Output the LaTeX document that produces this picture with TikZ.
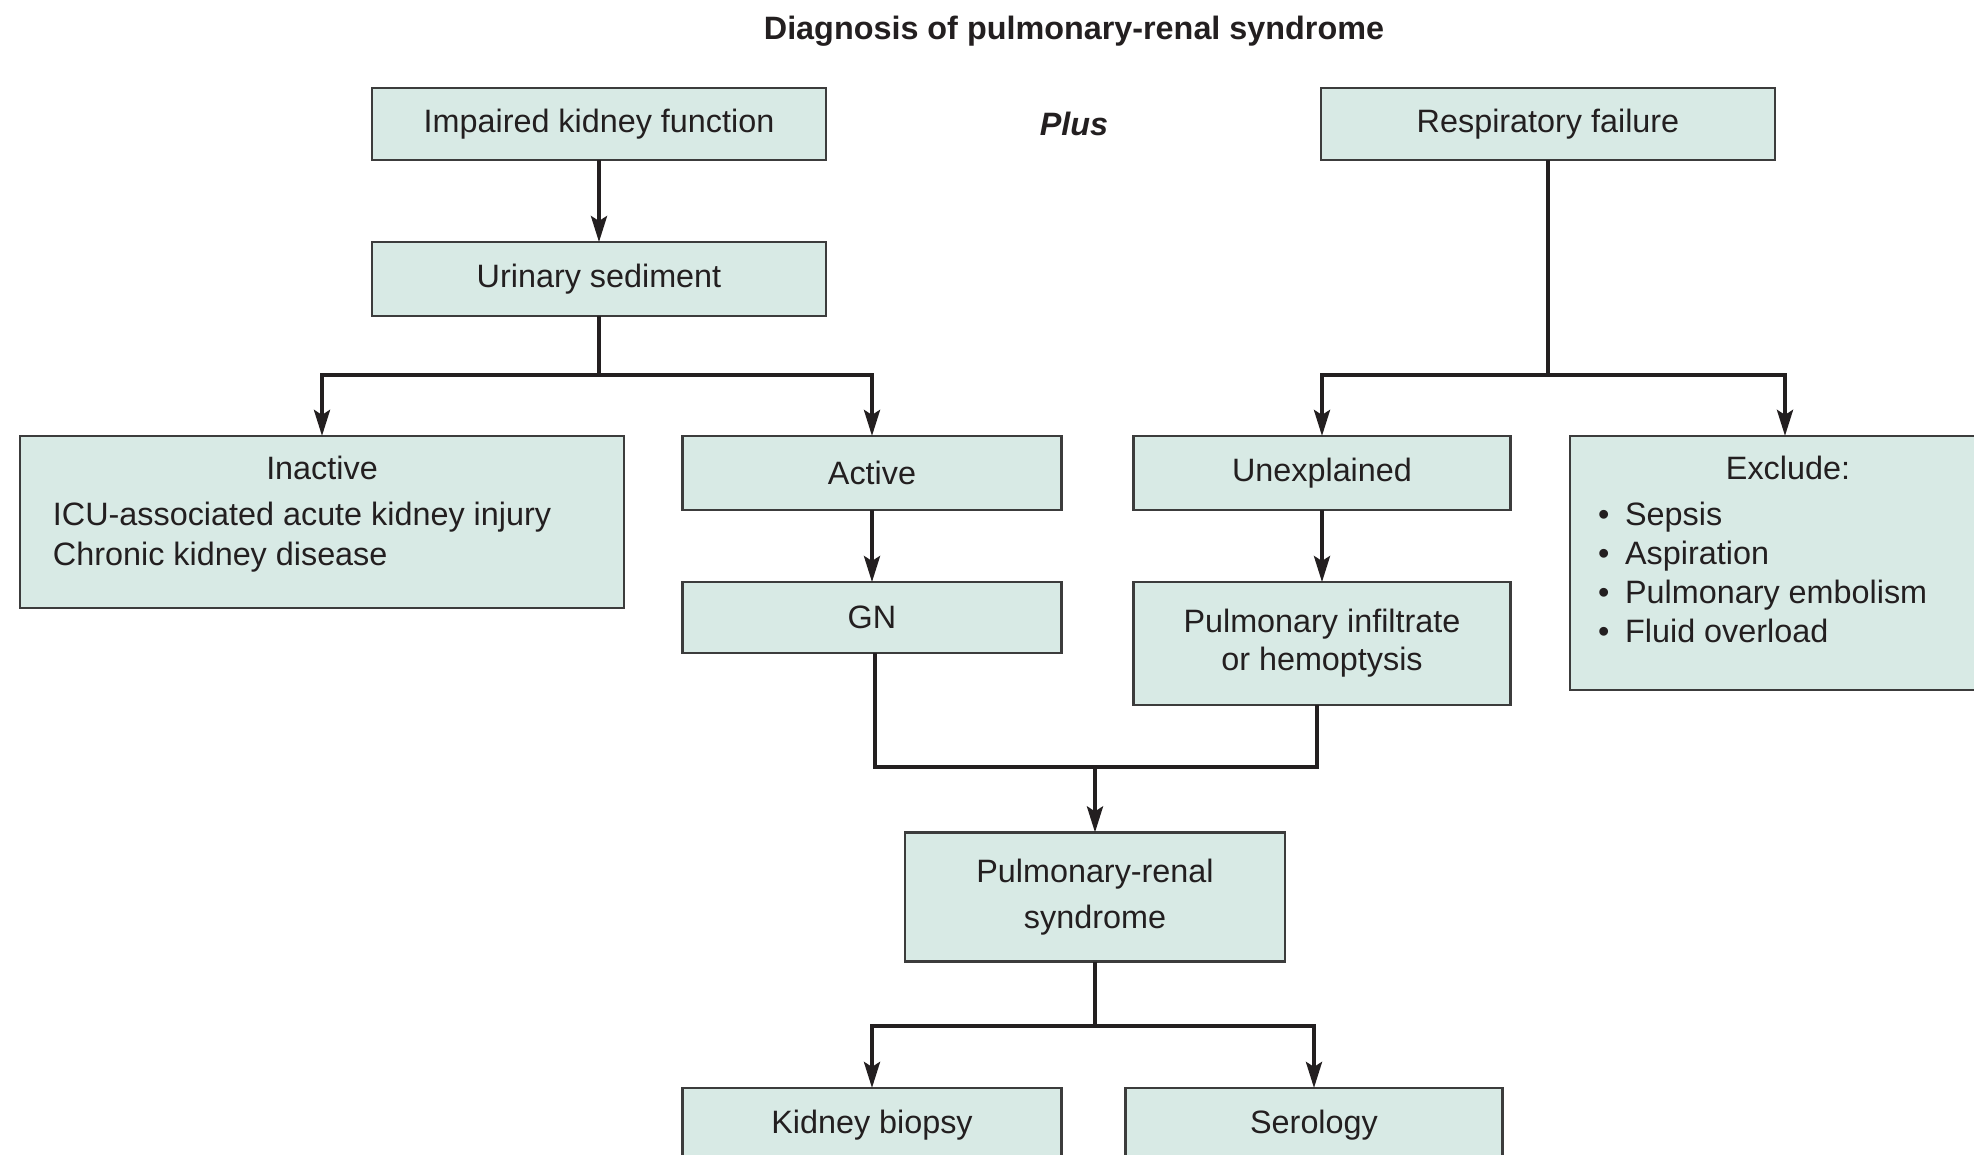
\documentclass[tikz,border=0pt]{standalone}
\usepackage{fontspec}
\setmainfont{Liberation Sans}
\usetikzlibrary{arrows.meta}
\usetikzlibrary{positioning}
\definecolor{boxfill}{RGB}{216,234,229}
\definecolor{boxline}{RGB}{60,60,60}
\definecolor{inkline}{RGB}{35,31,32}
\tikzset{>={Stealth[length=2.6mm,width=1.6mm,inset=0.5mm]}, node distance=0.72cm, font=\fontsize{9.2}{11.3}\selectfont}
\tikzstyle{block} = [draw=boxline, fill=boxfill, rectangle, line width=0.7pt, minimum height=0.74cm, text=inkline, align=center, inner sep=0pt, outer sep=0pt]
\tikzstyle{txt} = [inner sep=0pt, outer sep=0pt, text=inkline]
\tikzstyle{headtext} = [txt, font=\fontsize{9.2}{11}\selectfont\bfseries]
\tikzstyle{wire} = [draw=inkline, line width=1.1pt]
\newcommand{\bull}{\textbullet\hspace{4.5pt}}

\begin{document}
\begin{tikzpicture}[x=0.01cm, y=-0.01cm]
	\useasboundingbox (0,0) rectangle (1974,1155);
	\clip (0,0) rectangle (1974,1155);

	\node [headtext] (title) at (1074,31) {Diagnosis of pulmonary-renal syndrome};
	\node [block, minimum width=4.54cm, minimum height=0.72cm] (kidney) at (599,124) {Impaired kidney function};
	\node [headtext, font=\fontsize{9.2}{11}\selectfont\bfseries\itshape] (plus) at (1074,124) {Plus};
	\node [block, minimum width=4.54cm, minimum height=0.72cm] (resp) at (1548,124) {Respiratory failure};
	\node [block, minimum width=4.54cm, below=0.82cm of kidney] (sediment) {Urinary sediment};

	\node [block, minimum width=6.04cm, minimum height=1.72cm] (inactive) at (322,522) {};
	\node [txt] (inactive_t) at (322,468) {Inactive};
	\node [txt, align=left, anchor=north west] (inactive_l) at (53,502) {ICU-associated acute kidney injury\\Chronic kidney disease};
	\node [block, minimum width=3.79cm] (active) at (872,473) {Active};
	\node [block, minimum width=3.79cm, minimum height=0.71cm, below=0.72cm of active] (gn) {GN};
	\node [block, minimum width=3.77cm] (unexpl) at (1322,473) {Unexplained};
	\node [block, minimum width=3.77cm, minimum height=1.23cm, below=0.72cm of unexpl, font=\fontsize{9.2}{10.8}\selectfont] (infil) {Pulmonary infiltrate\\or hemoptysis};
	\node [block, minimum width=4.30cm, minimum height=2.54cm] (exclude) at (1785,563) {};
	\node [txt] (exclude_t) at (1788,468) {Exclude:};
	\node [txt, align=left, anchor=north west, font=\fontsize{9.2}{11.1}\selectfont] (exclude_l) at (1598,502) {\bull Sepsis\\\bull Aspiration\\\bull Pulmonary embolism\\\bull Fluid overload};

	\node [block, minimum width=3.80cm, minimum height=1.29cm, font=\fontsize{9.2}{13}\selectfont] (syndrome) at (1095,897) {Pulmonary-renal\\syndrome};
	\node [block, minimum width=3.79cm] (biopsy) at (872,1125) {Kidney biopsy};
	\node [block, minimum width=3.77cm] (serology) at (1314,1125) {Serology};

	\coordinate (split_k) at (599,375);
	\coordinate (split_r) at (1548,375);
	\coordinate (merge) at (1095,767);
	\coordinate (split_s) at (1095,1026);

	\draw [wire, ->] (kidney) -- (sediment);
	\draw [wire] (sediment) -- (split_k);
	\draw [wire, ->] (split_k) -| (inactive);
	\draw [wire, ->] (split_k) -| (active);

	\draw [wire] (resp) -- (split_r);
	\draw [wire, ->] (split_r) -| (unexpl);
	\draw [wire, ->] (split_r) -| (exclude);

	\draw [wire, ->] (active) -- (gn);
	\draw [wire, ->] (unexpl) -- (infil);

	\draw [wire] ([xshift=0.03cm]gn.south) |- (merge) -| ([xshift=-0.05cm]infil.south);
	\draw [wire, ->] (merge) -- (syndrome);

	\draw [wire] (syndrome) -- (split_s);
	\draw [wire, ->] (split_s) -| (biopsy);
	\draw [wire, ->] (split_s) -| (serology);
\end{tikzpicture}
\end{document}
